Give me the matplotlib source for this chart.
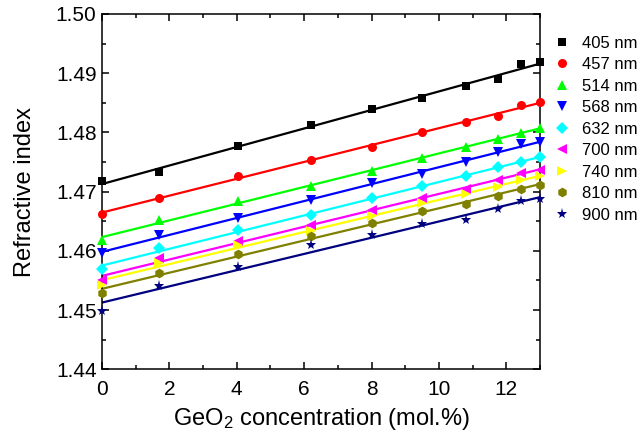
"""
Refractive index vs GeO2 concentration
for several wavelengths, with linear fits
"""

import numpy as np
import matplotlib
matplotlib.use('Agg')
import matplotlib.pyplot as plt
from matplotlib.ticker import MultipleLocator, FormatStrFormatter

# GeO2 concentration (mol.%)
conc = [0, 1.7, 4.05, 6.2, 8.0, 9.5, 10.8, 11.75, 12.45, 13.0]

n_405 = [1.4718, 1.4733, 1.4777, 1.4812, 1.4839, 1.4858, 1.4878, 1.4890, 1.4915, 1.4919]
n_457 = [1.4663, 1.4689, 1.4727, 1.4753, 1.4776, 1.4800, 1.4817, 1.4827, 1.4847, 1.4851]
n_514 = [1.4618, 1.4652, 1.4684, 1.4710, 1.4735, 1.4756, 1.4775, 1.4789, 1.4799, 1.4808]
n_568 = [1.4596, 1.4627, 1.4656, 1.4686, 1.4714, 1.4730, 1.4750, 1.4767, 1.4780, 1.4784]
n_632 = [1.4569, 1.4604, 1.4636, 1.4661, 1.4689, 1.4710, 1.4726, 1.4741, 1.4750, 1.4758]
n_700 = [1.4550, 1.4588, 1.4617, 1.4643, 1.4669, 1.4690, 1.4705, 1.4719, 1.4731, 1.4737]
n_740 = [1.4542, 1.4580, 1.4610, 1.4634, 1.4659, 1.4681, 1.4696, 1.4708, 1.4719, 1.4726]
n_810 = [1.4528, 1.4562, 1.4594, 1.4625, 1.4647, 1.4668, 1.4679, 1.4693, 1.4704, 1.4712]
n_900 = [1.4499, 1.4540, 1.4572, 1.4610, 1.4627, 1.4646, 1.4652, 1.4670, 1.4684, 1.4687]

labels = ['405 nm', '457 nm', '514 nm', '568 nm', '632 nm',
          '700 nm', '740 nm', '810 nm', '900 nm']
series = [n_405, n_457, n_514, n_568, n_632, n_700, n_740, n_810, n_900]


def set_plot_pars():
    plt.rcParams['font.family'] = ['Liberation Sans', 'DejaVu Sans']
    plt.rcParams['mathtext.default'] = 'regular'
    plt.rcParams['axes.linewidth'] = 1.1
    return plt


plt = set_plot_pars()
colors = ['#000000', '#ff0000', '#00ff00', '#0000ff', '#00ffff',
          '#ff00ff', '#ffff00', '#808000', '#000080']
markers = ['s', 'o', '^', 'v', 'D', '<', '>', 'h', '*']
msizes = [5.5, 6.5, 7, 7, 6, 7, 7, 7, 8]

fig = plt.figure(figsize=(6.42, 4.36), dpi=100)
ax = fig.add_axes([0.159, 0.153, 0.682, 0.815])

x = np.array(conc)
x_fit = np.array([0, 13])
for vals, lab, col, mk, ms in zip(series, labels, colors, markers, msizes):
    # linear fit through each wavelength
    slope, icpt = np.polyfit(x, np.array(vals), 1)
    ax.plot(x_fit, slope * x_fit + icpt, color=col, lw=1.6, zorder=2)
    ax.plot(x, vals, linestyle='none', marker=mk, ms=ms, color=col,
            markeredgewidth=0, label=lab, zorder=3, clip_on=False)

ax.set_xlim(0, 13)
ax.set_ylim(1.44, 1.50)
ax.xaxis.set_major_locator(MultipleLocator(2))
ax.xaxis.set_minor_locator(MultipleLocator(1))
ax.yaxis.set_major_locator(MultipleLocator(0.01))
ax.yaxis.set_minor_locator(MultipleLocator(0.005))
ax.yaxis.set_major_formatter(FormatStrFormatter('%.2f'))
ax.tick_params(which='both', direction='in', top=True, right=True,
               labelsize=15, width=1.1)
ax.tick_params(which='major', length=5)
ax.tick_params(which='minor', length=3)
ax.tick_params(axis='x', which='major', pad=8)
ax.tick_params(axis='y', which='major', pad=4)

ax.set_xlabel('GeO$_2$ concentration (mol.%)', fontsize=17, labelpad=5)
ax.set_ylabel('Refractive index', fontsize=17, labelpad=14)

fig.legend(loc='upper left', bbox_to_anchor=(555 / 642, 0.918),
           frameon=False, fontsize=12, handlelength=0.8, handletextpad=0.8,
           labelspacing=0.39, borderpad=0, borderaxespad=0)

plt.savefig('out.png', dpi=100)
